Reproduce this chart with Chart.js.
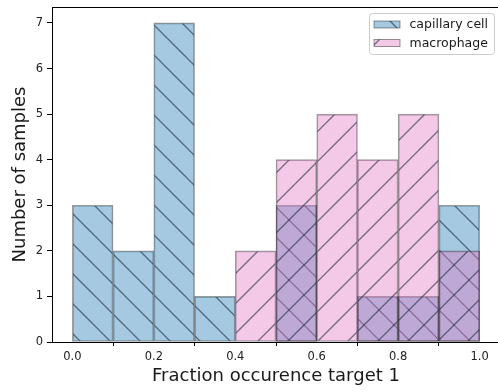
<!DOCTYPE html>
<html>
<head>
<meta charset="utf-8">
<script src="https://cdn.jsdelivr.net/npm/chart.js@4/dist/chart.umd.min.js"></script>
<style>
  html, body { margin: 0; padding: 0; background: #fff; overflow: hidden; }
  #wrap { position: absolute; left: 0; top: 0; }
</style>
</head>
<body>
<div id="wrap"><canvas id="hist" width="500" height="391"></canvas></div>
<script>
// Histogram bins (centres of 0.1-wide bins) and counts per cell type
const binCenters = [0.05, 0.15, 0.25, 0.35, 0.45, 0.55, 0.65, 0.75, 0.85, 0.95];
const capillaryCounts = [3, 2, 7, 1, 0, 3, 0, 1, 1, 3];
const macrophageCounts = [0, 0, 0, 0, 2, 4, 5, 4, 5, 2];
const seriesLabels = ['capillary cell', 'macrophage'];
const xTicks = [0.0, 0.2, 0.4, 0.6, 0.8, 1.0];
const yTicks = [0, 1, 2, 3, 4, 5, 6, 7];

const FONT = "'DejaVu Sans', 'Liberation Sans', sans-serif";
const EDGE = 'rgba(0,0,0,0.4)';
const HATCH_INK = 'rgba(10,25,45,0.55)';

// Tiled hatch fill: translucent face colour with diagonal lines
function hatchPattern(face, dir) {
  const size = 30;
  const tile = document.createElement('canvas');
  tile.width = size; tile.height = size;
  const t = tile.getContext('2d');
  t.fillStyle = face;
  t.fillRect(0, 0, size, size);
  t.strokeStyle = HATCH_INK;
  t.lineWidth = 1.3;
  t.beginPath();
  if (dir === '\\') {
    const c = 21;
    for (let k = -2; k <= 2; k++) {
      const o = c + k * size;
      t.moveTo(-10, -10 + o);
      t.lineTo(size + 10, size + 10 + o);
    }
  } else {
    const c = 29;
    for (let k = -2; k <= 2; k++) {
      const o = c + k * size;
      t.moveTo(-10, o + 10);
      t.lineTo(size + 10, o - size - 10);
    }
  }
  t.stroke();
  return t.createPattern(tile, 'repeat');
}

const ctx = document.getElementById('hist').getContext('2d');
const blueHatch = hatchPattern('rgba(31,119,180,0.4)', '\\');
const pinkHatch = hatchPattern('rgba(227,119,194,0.4)', '/');

// Top spine plus an in-axes legend with a rounded frame
const framePlugin = {
  id: 'frameAndLegend',
  afterDraw(chart) {
    const c = chart.ctx;
    const a = chart.chartArea;
    c.save();
    c.strokeStyle = '#000';
    c.lineWidth = 1;
    c.beginPath();
    c.moveTo(a.left, Math.round(a.top) + 0.5);
    c.lineTo(a.right, Math.round(a.top) + 0.5);
    c.moveTo(a.right - 0.5, a.top);
    c.lineTo(a.right - 0.5, a.bottom);
    c.stroke();

    // legend box
    const bx = a.right - 130.5, by = a.top + 6.5, bw = 125, bh = 41;
    c.beginPath();
    c.roundRect(bx, by, bw, bh, 3);
    c.fillStyle = 'rgba(255,255,255,0.8)';
    c.fill();
    c.strokeStyle = '#cccccc';
    c.stroke();

    c.font = '12.5px ' + FONT;
    c.textBaseline = 'middle';
    c.textAlign = 'left';
    chart.data.datasets.forEach((ds, i) => {
      const rowY = by + 11 + i * 18.5;
      const px = bx + 4.5, pw = 26, ph = 7;
      c.fillStyle = ds.backgroundColor;
      c.fillRect(px, rowY - ph / 2, pw, ph);
      c.strokeStyle = EDGE;
      c.strokeRect(px, rowY - ph / 2, pw, ph);
      c.fillStyle = '#1a1a1a';
      c.fillText(ds.label, bx + 40, rowY + 0.5);
    });
    c.restore();
  }
};

const tickFont = { family: FONT, size: 11.5 };

new Chart(ctx, {
  type: 'bar',
  data: {
    datasets: [
      {
        label: seriesLabels[0],
        data: binCenters.map((x, i) => ({ x, y: capillaryCounts[i] })),
        backgroundColor: blueHatch,
        borderColor: EDGE,
        borderWidth: 1,
        borderSkipped: false,
        grouped: false,
        order: 1,
        barPercentage: 1,
        categoryPercentage: 1
      },
      {
        label: seriesLabels[1],
        data: binCenters.map((x, i) => ({ x, y: macrophageCounts[i] })),
        backgroundColor: pinkHatch,
        borderColor: EDGE,
        borderWidth: 1,
        borderSkipped: false,
        grouped: false,
        order: 0,
        barPercentage: 1,
        categoryPercentage: 1
      }
    ]
  },
  options: {
    responsive: false,
    animation: false,
    events: [],
    layout: { padding: { top: 7, right: 0, left: 0, bottom: 0 } },
    plugins: { legend: { display: false }, tooltip: { enabled: false } },
    scales: {
      x: {
        type: 'linear',
        min: -0.05,
        max: 1.05,
        offset: false,
        grid: { display: true, drawOnChartArea: false, drawTicks: true, tickLength: 4, color: '#000', tickWidth: 1 },
        border: { display: true, color: '#000', width: 1 },
        ticks: {
          font: tickFont, color: '#222', padding: 4, maxRotation: 0, autoSkip: false,
          callback: v => Number(v).toFixed(1)
        },
        title: {
          display: true, text: 'Fraction occurence target 1', color: '#1a1a1a',
          font: { family: FONT, size: 18 }, padding: { top: 0, bottom: 4 }
        },
        afterBuildTicks: s => { s.ticks = xTicks.map(v => ({ value: v })); },
        afterFit: s => { s.height = 49; s.paddingLeft = 0; s.paddingRight = 0; }
      },
      y: {
        type: 'linear',
        min: 0,
        max: 7.35,
        grid: { display: true, drawOnChartArea: false, drawTicks: true, tickLength: 5, color: '#000', tickWidth: 1 },
        border: { display: true, color: '#000', width: 1 },
        ticks: { font: tickFont, color: '#222', padding: 4, callback: v => String(v) },
        title: {
          display: true, text: 'Number of samples', color: '#1a1a1a',
          font: { family: FONT, size: 18 }, padding: { top: 10, bottom: 0 }
        },
        afterBuildTicks: s => { s.ticks = yTicks.map(v => ({ value: v })); },
        afterFit: s => { s.width = 52; s.paddingTop = 0; s.paddingBottom = 0; }
      }
    }
  },
  plugins: [framePlugin]
});
</script>
</body>
</html>
